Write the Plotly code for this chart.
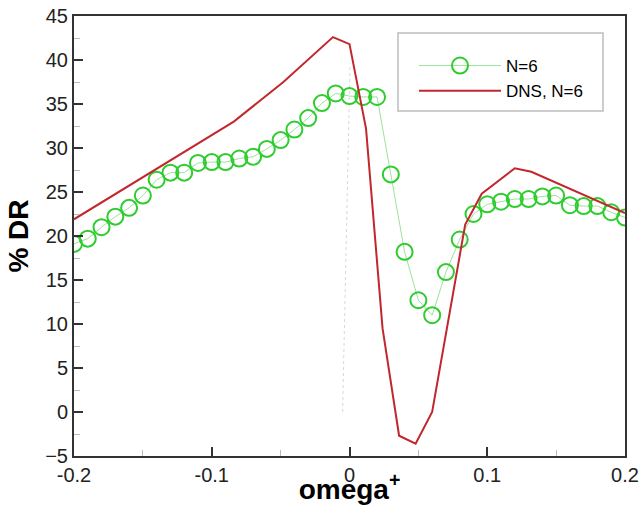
import plotly.graph_objects as go

# Model results (N=6), omega+ from -0.2 to 0.2 in steps of 0.01
omega_model = [round(-0.2 + 0.01 * i, 2) for i in range(41)]
dr_model = [19.1, 19.7, 21.0, 22.2, 23.2, 24.6, 26.4, 27.2, 27.2, 28.3,
            28.4, 28.4, 28.8, 29.0, 29.9, 30.9, 32.1, 33.4, 35.1, 36.2,
            35.9, 35.8, 35.8, 27.0, 18.2, 12.7, 11.0, 15.9, 19.6, 22.5,
            23.6, 23.9, 24.2, 24.2, 24.5, 24.6, 23.5, 23.4, 23.4, 22.7,
            22.1]

# DNS results
omega_dns = [-0.2, -0.084, -0.048, -0.012, 0.0, 0.012, 0.024, 0.036, 0.048,
             0.06, 0.084, 0.096, 0.12, 0.132, 0.2]
dr_dns = [21.9, 33.0, 37.5, 42.6, 41.8, 32.2, 9.5, -2.7, -3.6,
          0.0, 21.3, 24.8, 27.7, 27.3, 22.6]

# faint dotted guide line
omega_guide = [-0.005, 0.0004]
dr_guide = [0.0, 39.6]

x_ticks = [-0.2, -0.1, 0, 0.1, 0.2]
x_ticktext = ["-0.2", "-0.1", "0", "0.1", "0.2"]
y_ticks = list(range(-5, 50, 5))

W, H = 643, 505
ML, MR, MT, MB = 74, 18, 16, 49
PW, PH = W - ML - MR, H - MT - MB


def px_x(p):
    return (p - ML) / PW


def px_y(p):
    return (H - MB - p) / PH


fig = go.Figure()
fig.add_trace(go.Scatter(
    x=omega_guide, y=dr_guide, mode="lines",
    line=dict(color="#d8d8d8", width=1, dash="dot"),
    showlegend=False, hoverinfo="skip"))
fig.add_trace(go.Scatter(
    x=omega_model, y=dr_model, mode="lines+markers", name="N=6",
    line=dict(color="#9be39b", width=1),
    marker=dict(symbol="circle-open", size=16, color="#2ecc2e",
                line=dict(width=2, color="#2ecc2e"))))
fig.add_trace(go.Scatter(
    x=omega_dns, y=dr_dns, mode="lines", name="DNS, N=6",
    line=dict(color="#c1272d", width=2)))

tickfont = dict(family="Liberation Sans, Arial, sans-serif", size=20, color="#222222")
titlefont = dict(family="Liberation Sans, Arial, sans-serif", size=28, color="#000000",
                 weight="bold")

fig.update_layout(
    width=W, height=H,
    margin=dict(l=ML, r=MR, t=MT, b=MB),
    paper_bgcolor="white", plot_bgcolor="white",
    showlegend=True,
    legend=dict(x=px_x(414), y=px_y(48), xanchor="left", yanchor="top",
                bgcolor="rgba(0,0,0,0)", borderwidth=0,
                font=dict(family="Liberation Sans, Arial, sans-serif", size=17,
                          color="#000000"),
                tracegroupgap=0, itemwidth=82),
    shapes=[dict(type="rect", xref="paper", yref="paper",
                 x0=px_x(398), x1=px_x(603), y0=px_y(111), y1=px_y(33),
                 line=dict(color="#bdbdbd", width=1.5), fillcolor="white",
                 layer="below")],
    xaxis=dict(range=[-0.2, 0.2], tickvals=x_ticks, ticktext=x_ticktext,
               ticks="inside", ticklen=9, tickwidth=1.5, tickcolor="#333333",
               showgrid=False, zeroline=False, automargin=False,
               showline=True, linecolor="#333333", linewidth=2, mirror=True,
               tickfont=tickfont,
               minor=dict(dtick=0.05, ticks="inside", ticklen=6,
                          tickcolor="#bbbbbb", tickwidth=1, showgrid=False),
               title=dict(text="omega<sup>+</sup>", font=titlefont, standoff=6)),
    yaxis=dict(range=[-5, 45], tickvals=y_ticks,
               ticks="inside", ticklen=9, tickwidth=1.5, tickcolor="#333333",
               showgrid=False, zeroline=False, automargin=False,
               showline=True, linecolor="#333333", linewidth=2, mirror=True,
               tickfont=tickfont,
               minor=dict(dtick=2.5, ticks="inside", ticklen=6,
                          tickcolor="#bbbbbb", tickwidth=1, showgrid=False),
               title=dict(text="% DR", font=titlefont, standoff=8)),
)

fig.write_html("out.html")
